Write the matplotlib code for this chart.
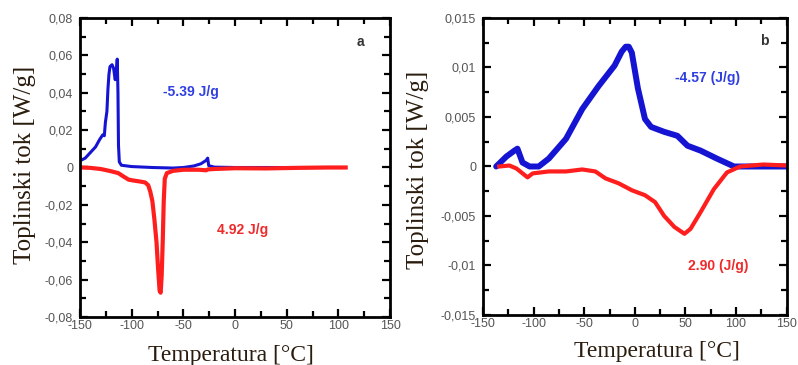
import numpy as np
import matplotlib
matplotlib.use("Agg")
import matplotlib.pyplot as plt
from matplotlib.ticker import MultipleLocator, FuncFormatter

plt.rcParams["axes.unicode_minus"] = False

# Panel a: DSC curves (temperature in C, heat flow in W/g)
a_blue_t = [-150, -145, -140, -135, -131, -128, -126.5, -125.5, -124, -123, -122,
            -121, -119, -117.5, -116, -115, -114, -113.3, -112.8, -112, -110,
            -100, -80, -60, -50, -40, -33, -28, -26.5, -25.5, -20, 0, 50, 100, 107]
a_blue_q = [0.0036, 0.005, 0.008, 0.011, 0.015, 0.0175, 0.017, 0.024, 0.030, 0.042, 0.050,
            0.054, 0.055, 0.053, 0.047, 0.050, 0.058, 0.040, 0.012, 0.003, 0.0012,
            0.0005, 0.0, -0.0003, 0.0, 0.0008, 0.002, 0.0038, 0.005, 0.001, 0.0002, 0.0, 0.0, 0.0, 0.0]
a_red_t = [-148, -140, -130, -120, -113, -108, -103, -98, -92, -87, -84, -82, -80, -78,
           -76, -74.5, -73, -72, -71, -70, -69, -68, -66, -60, -50, -35, -28, -26, -20,
           0, 30, 60, 90, 107]
a_red_q = [0.0, -0.0002, -0.0008, -0.002, -0.003, -0.0048, -0.0065, -0.007, -0.0075, -0.008,
           -0.0095, -0.013, -0.018, -0.028, -0.040, -0.054, -0.066, -0.067, -0.058, -0.040,
           -0.018, -0.006, -0.003, -0.0018, -0.0012, -0.0012, -0.0015, -0.001, -0.0008,
           -0.0004, -0.0005, -0.0002, 0.0, 0.0]

# Panel b
b_blue_t = [-137, -127, -119, -116, -111, -104, -95, -85, -68, -52, -36, -20, -13, -9,
            -6, -3, 3, 10, 16, 29, 42, 52, 65, 81, 98, 111, 150]
b_blue_q = [0.0, 0.001, 0.0016, 0.0018, 0.0004, 0.0, 0.0, 0.0008, 0.0028, 0.0058, 0.0081,
            0.0102, 0.0116, 0.0121, 0.0121, 0.0115, 0.0079, 0.0048, 0.0040, 0.0035, 0.0031,
            0.0021, 0.0016, 0.0008, 0.0, 0.0, 0.0]
b_red_t = [-134, -124, -117, -106, -101, -85, -68, -52, -39, -29, -16, -3, 10, 20, 29,
           39, 49, 55, 65, 78, 91, 104, 127, 150]
b_red_q = [0.0, 0.0001, -0.0002, -0.0011, -0.0007, -0.0005, -0.0005, -0.0003, -0.0005,
           -0.0012, -0.0017, -0.0024, -0.0029, -0.0036, -0.005, -0.0061, -0.0068, -0.0063,
           -0.0046, -0.0023, -0.0006, 0.0, 0.0002, 0.0001]

x_ticks = [-150, -100, -50, 0, 50, 100, 150]

BLUE = "#1414d2"
RED = "#ff1e1e"
LABEL_COLOR = "#2b1d0e"


def comma_fmt(v, pos):
    v = round(v, 6)
    if abs(v) < 1e-12:
        return "0"
    return f"{v:g}".replace(".", ",")


def style_axes(ax, ymaj, ymin):
    ax.set_xlim(-150, 150)
    ax.set_xticks(x_ticks)
    ax.xaxis.set_minor_locator(MultipleLocator(25))
    ax.yaxis.set_major_locator(MultipleLocator(ymaj))
    ax.yaxis.set_minor_locator(MultipleLocator(ymin))
    ax.yaxis.set_major_formatter(FuncFormatter(comma_fmt))
    ax.tick_params(which="both", direction="in", top=True, right=True, width=1.6,
                   labelsize=9, labelcolor="#555555")
    ax.tick_params(which="major", length=6)
    ax.tick_params(which="minor", length=4)
    ax.tick_params(axis="y", pad=5)
    ax.tick_params(axis="x", pad=2)
    for lab in ax.get_xticklabels() + ax.get_yticklabels():
        lab.set_family("Liberation Sans")
    for sp in ax.spines.values():
        sp.set_linewidth(2)


fig = plt.figure(figsize=(7.98, 3.65), dpi=100)
ax1 = fig.add_axes([0.1003, 0.1315, 0.3885, 0.8192])
ax2 = fig.add_axes([0.6053, 0.137, 0.3805, 0.8137])

# panel a
ax1.plot(a_blue_t, a_blue_q, color=BLUE, lw=2.2)
ax1.plot(a_red_t, a_red_q, color=RED, lw=3.0)
ax1.set_ylim(-0.08, 0.08)
style_axes(ax1, 0.02, 0.01)
ax1.text(-69.7, 0.0402, "-5.39 J/g", color="#2f3fe0", fontsize=10, weight="bold",
         family="Liberation Sans", va="center")
ax1.text(-17.4, -0.0332, "4.92 J/g", color="#ee2a2a", fontsize=10, weight="bold",
         family="Liberation Sans", va="center")
ax1.text(118, 0.0669, "a", color="#333333", fontsize=10, weight="bold",
         family="Liberation Sans", va="center")

# panel b
ax2.plot(b_blue_t, b_blue_q, color=BLUE, lw=4.3, solid_capstyle="round")
ax2.plot(b_red_t, b_red_q, color=RED, lw=3.0)
ax2.set_ylim(-0.015, 0.015)
style_axes(ax2, 0.005, 0.0025)
ax2.text(39.6, 0.00889, "-4.57 (J/g)", color="#2f3fe0", fontsize=10, weight="bold",
         family="Liberation Sans", va="center")
ax2.text(52.3, -0.0101, "2.90 (J/g)", color="#ee2a2a", fontsize=10, weight="bold",
         family="Liberation Sans", va="center")
ax2.text(123.6, 0.01263, "b", color="#333333", fontsize=10, weight="bold",
         family="Liberation Sans", va="center")

# axis labels
for ax in (ax1, ax2):
    ax.set_ylabel("Toplinski tok [W/g]", family="Liberation Serif", fontsize=18,
                  color=LABEL_COLOR)
    ax.yaxis.label.set_va("center")
    ax.set_xlabel("Temperatura [°C]", family="Liberation Serif", fontsize=17,
                  color=LABEL_COLOR)
    ax.xaxis.label.set_va("baseline")
ax1.yaxis.set_label_coords(-0.177, 0.508)
ax2.yaxis.set_label_coords(-0.214, 0.49)
ax1.xaxis.set_label_coords(0.487, -0.147)
ax2.xaxis.set_label_coords(0.572, -0.141)

fig.savefig("out.png", dpi=100)
